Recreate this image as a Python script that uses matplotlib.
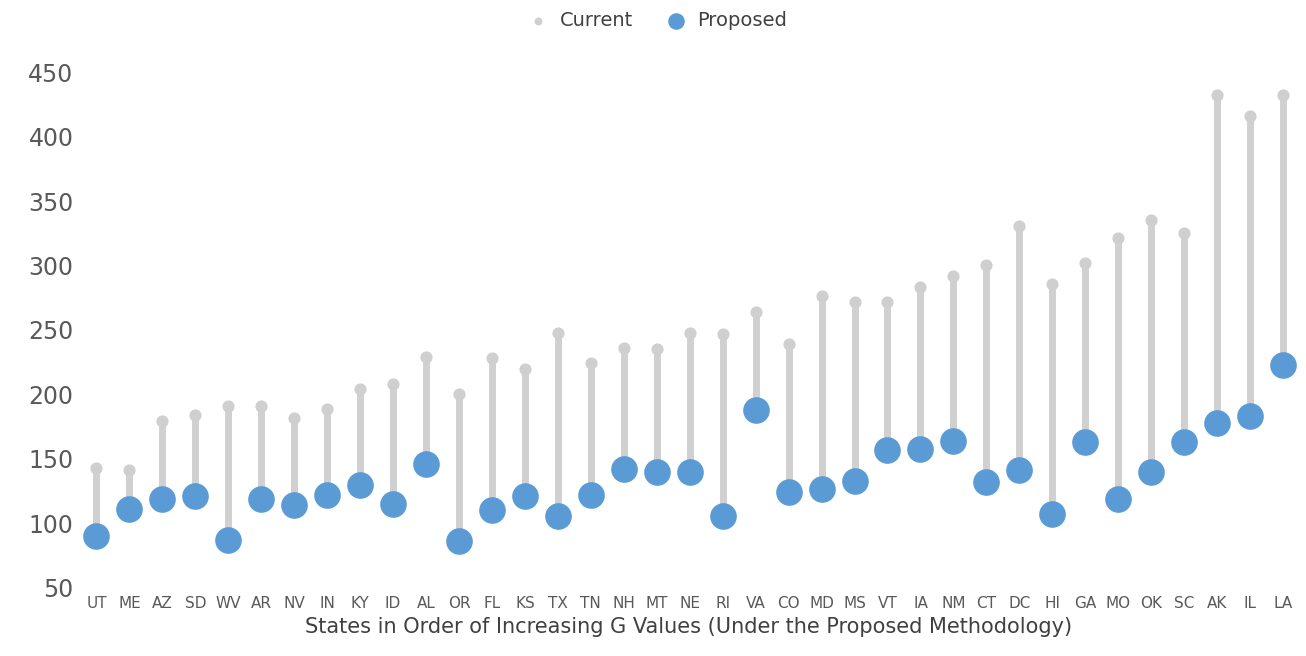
import matplotlib.pyplot as plt

states = ['UT', 'ME', 'AZ', 'SD', 'WV', 'AR', 'NV', 'IN', 'KY', 'ID', 'AL', 'OR', 'FL', 'KS',
          'TX', 'TN', 'NH', 'MT', 'NE', 'RI', 'VA', 'CO', 'MD', 'MS', 'VT', 'IA', 'NM', 'CT',
          'DC', 'HI', 'GA', 'MO', 'OK', 'SC', 'AK', 'IL', 'LA']
current = [143, 141, 179, 184, 191, 191, 182, 189, 204, 208, 229, 200, 228, 220,
           248, 224, 236, 235, 248, 247, 264, 239, 276, 272, 272, 283, 292, 300,
           331, 286, 302, 321, 335, 325, 432, 416, 432]
proposed = [90, 111, 119, 121, 87, 119, 114, 122, 130, 115, 146, 86, 110, 121,
            106, 122, 142, 140, 140, 106, 188, 124, 127, 133, 157, 158, 164, 132,
            141, 107, 163, 119, 140, 163, 178, 183, 223]

fig = plt.figure(figsize=(13.06, 6.56), dpi=100)
ax = fig.add_axes([0.06, 0.104, 0.935, 0.79])
x = list(range(len(states)))
ax.vlines(x, proposed, current, color='#d0d0d0', linewidth=5, zorder=1)
ax.scatter(x, current, s=60, color='#cfcfcf', zorder=2, label='Current')
ax.scatter(x, proposed, s=330, color='#5b9bd5', zorder=3, label='Proposed')

ax.set_ylim(50, 452)
ax.set_yticks(range(50, 451, 50))
ax.set_xlim(-0.55, len(states) - 0.5)
ax.set_xticks(x)
ax.set_xticklabels(states, fontsize=11, color='#595959')
ax.tick_params(axis='y', labelsize=17, colors='#595959', length=0)
ax.tick_params(axis='x', length=0, pad=6)
for s in ax.spines.values():
    s.set_visible(False)
ax.set_xlabel('States in Order of Increasing G Values (Under the Proposed Methodology)',
              fontsize=15, color='#404040')
fig.legend(loc='upper center', ncol=2, frameon=False, fontsize=14, markerscale=0.6,
           handletextpad=0.1, columnspacing=1.2, bbox_to_anchor=(0.5, 1.01),
           labelcolor='#404040')
fig.savefig('out.png')
